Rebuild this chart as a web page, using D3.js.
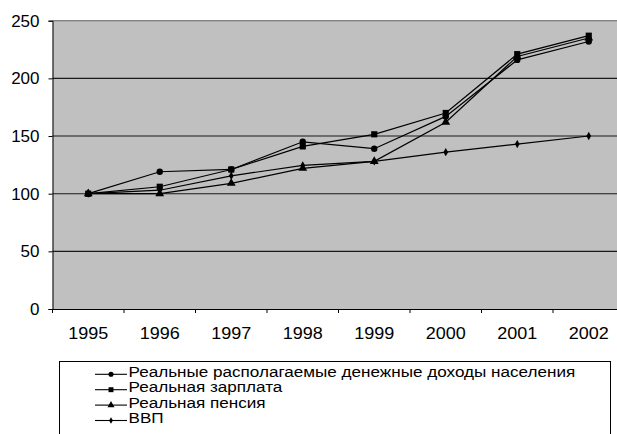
<!DOCTYPE html>
<html>
<head>
<meta charset="utf-8">
<script src="https://cdn.jsdelivr.net/npm/d3@7"></script>
<style>
  body { margin: 0; background: #fff; }
  text { font-family: "Liberation Sans", Arial, sans-serif; fill: #000; }
</style>
</head>
<body>
<div id="chart"></div>
<script>
// chart data
var years = ["1995", "1996", "1997", "1998", "1999", "2000", "2001", "2002"];
var incomes = [100, 119, 121, 145, 139, 167, 216, 232];
var wages = [100, 106, 121, 141, 151.5, 170, 221, 237];
var pensions = [100, 100, 109, 122, 128, 162, 219, 235];
var gdp = [100, 103, 115.5, 124.5, 128, 136, 143, 150];
var seriesNames = [
    "Реальные располагаемые денежные доходы населения",
    "Реальная зарплата",
    "Реальная пенсия",
    "ВВП"
];
var yTicks = [0, 50, 100, 150, 200, 250];

var width = 617, height = 434;
var margin = { top: 20.7, left: 52.5, bottom: 309 };

var series = [
    { name: seriesNames[0], values: incomes, marker: "circle" },
    { name: seriesNames[1], values: wages, marker: "square" },
    { name: seriesNames[2], values: pensions, marker: "triangle" },
    { name: seriesNames[3], values: gdp, marker: "diamond" }
];

var x = d3.scaleBand()
    .domain(years)
    .range([margin.left, margin.left + 71.5 * years.length]);

var y = d3.scaleLinear()
    .domain([0, 250])
    .range([margin.bottom, margin.top]);

var svg = d3.select("#chart").append("svg")
    .attr("width", width)
    .attr("height", height);

// the original text is a bit wider than the font, stretch it horizontally
function stretch(sel, sx) {
    sel.attr("transform", function () {
        var tx = +this.getAttribute("x") || 0;
        return "translate(" + tx + ",0) scale(" + sx + ",1) translate(" + (-tx) + ",0)";
    });
}

// plot area
svg.append("rect")
    .attr("x", x.range()[0])
    .attr("y", y(250))
    .attr("width", x.range()[1] - x.range()[0])
    .attr("height", y(0) - y(250))
    .attr("fill", "#c0c0c0");

// gridlines
svg.append("g")
    .selectAll("line")
    .data(yTicks.filter(function (d) { return d > 0; }))
    .enter().append("line")
    .attr("x1", x.range()[0])
    .attr("x2", x.range()[1])
    .attr("y1", function (d) { return y(d); })
    .attr("y2", function (d) { return y(d); })
    .attr("stroke", function (d) { return d === 250 ? "#606060" : "#1a1a1a"; })
    .attr("stroke-width", 1.1);

// y axis
var yAxis = svg.append("g")
    .attr("transform", "translate(" + x.range()[0] + ",0)")
    .call(d3.axisLeft(y).tickValues(yTicks).tickSize(4).tickPadding(9));
yAxis.select(".domain").attr("stroke", "#000");
yAxis.selectAll("text")
    .style("font-size", "17px");

// x axis: labels centred on categories, ticks on boundaries
var xAxis = svg.append("g")
    .attr("transform", "translate(0," + y(0) + ")")
    .call(d3.axisBottom(x).tickSizeInner(0).tickSizeOuter(0).tickPadding(18));
xAxis.select(".domain").attr("stroke", "#000");
xAxis.selectAll("text")
    .style("font-size", "17px")
    .call(stretch, 1.06);

svg.append("g")
    .selectAll("line")
    .data(years)
    .enter().append("line")
    .attr("x1", function (d) { return x(d); })
    .attr("x2", function (d) { return x(d); })
    .attr("y1", y(0))
    .attr("y2", y(0) + 4)
    .attr("stroke", "#000");

var line = d3.line()
    .x(function (d, i) { return x(years[i]) + x.bandwidth() / 2; })
    .y(function (d) { return y(d); });

function drawMarker(sel, type, k) {
    if (type === "circle") {
        sel.append("circle").attr("r", 3.2 * k);
    } else {
        var sym = {
            square: d3.symbolSquare,
            triangle: d3.symbolTriangle,
            diamond: d3.symbolDiamond
        }[type];
        var size = { square: 38, triangle: 34, diamond: 20 }[type];
        sel.append("path").attr("d", d3.symbol().type(sym).size(size * k * k)());
    }
}

series.forEach(function (s) {
    svg.append("path")
        .datum(s.values)
        .attr("fill", "none")
        .attr("stroke", "#000")
        .attr("stroke-width", 1.2)
        .attr("d", line);

    s.values.forEach(function (v, i) {
        var g = svg.append("g")
            .attr("transform", "translate(" + (x(years[i]) + x.bandwidth() / 2) + "," + y(v) + ")")
            .attr("fill", "#000");
        drawMarker(g, s.marker, 1);
    });
});

// legend
var legend = svg.append("g");
legend.append("rect")
    .attr("x", 59.5)
    .attr("y", 361.5)
    .attr("width", 551)
    .attr("height", 90)
    .attr("fill", "#fff")
    .attr("stroke", "#000");

var items = legend.selectAll(".item")
    .data(series)
    .enter().append("g")
    .attr("class", "item")
    .attr("transform", function (d, i) { return "translate(0," + (377 + i * 15.4) + ")"; });

items.append("line")
    .attr("x1", 95)
    .attr("x2", 127)
    .attr("y1", -2.7)
    .attr("y2", -2.7)
    .attr("stroke", "#000")
    .attr("stroke-width", 1.1);

items.each(function (d) {
    var g = d3.select(this).append("g")
        .attr("transform", "translate(111,-2.7)")
        .attr("fill", "#000");
    drawMarker(g, d.marker, 0.8);
});

items.append("text")
    .attr("x", 128.5)
    .style("font-size", "14.5px")
    .text(function (d) { return d.name; })
    .call(stretch, 1.18);
</script>
</body>
</html>
